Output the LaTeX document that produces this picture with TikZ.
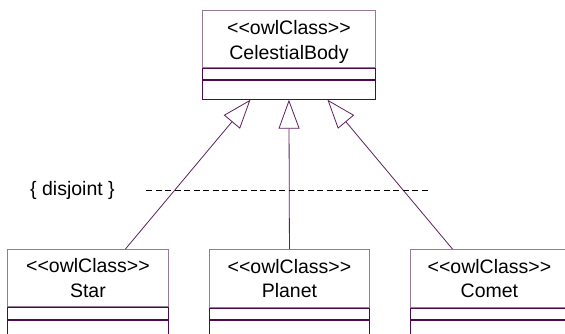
\documentclass[tikz,border=0pt]{standalone}
\usepackage{fontspec}
\setmainfont{Liberation Sans}
\usetikzlibrary{arrows.meta,calc}
\definecolor{umlline}{HTML}{5E1F5E}
\definecolor{umllight}{HTML}{987898}
\definecolor{umldark}{HTML}{4E0A4E}
\newcommand{\stereo}{<\kern0pt<owlClass>\kern0pt>}
\tikzset{
  namebox/.style={draw=umllight,line width=0.9pt,fill=white,inner sep=0pt,align=center,
    font=\fontsize{19.5}{24.5}\selectfont,anchor=north west},
  compbox/.style={draw=umldark,line width=0.9pt,inner sep=0pt,anchor=north west},
  gen/.style={draw=umlline,line width=0.8pt,-{Triangle[open,length=29pt,width=21pt,fill=white]}},
  disj/.style={draw=black,line width=0.8pt,dash pattern=on 6pt off 3.5pt}
}
\begin{document}
\begin{tikzpicture}[x=1pt,y=-1pt]
\useasboundingbox (0,0) rectangle (565,333);
% CelestialBody
\node[namebox,minimum width=173pt,minimum height=57pt,text depth=0pt] (cb) at (202,10) {\raisebox{-2pt}{\stereo}\\\raisebox{-2pt}{CelestialBody}};
\node[compbox,minimum width=173pt,minimum height=11pt] (cbattr) at (cb.south west) {};
\node[compbox,minimum width=173pt,minimum height=19pt] (cbop) at (cbattr.south west) {};
% Star
\node[namebox,minimum width=161pt,minimum height=57pt] (star) at (7,249) {\stereo\\Star};
\node[compbox,minimum width=161pt,minimum height=12pt] (starattr) at (star.south west) {};
\node[compbox,minimum width=161pt,minimum height=30pt] (starop) at (starattr.south west) {};
% Planet
\node[namebox,minimum width=160pt,minimum height=58pt] (planet) at (209,249) {\stereo\\Planet};
\node[compbox,minimum width=160pt,minimum height=11pt] (planetattr) at (planet.south west) {};
\node[compbox,minimum width=160pt,minimum height=30pt] (planetop) at (planetattr.south west) {};
% Comet
\node[namebox,minimum width=158pt,minimum height=58pt] (comet) at (410,249) {\stereo\\Comet};
\node[compbox,minimum width=158pt,minimum height=11pt] (cometattr) at (comet.south west) {};
\node[compbox,minimum width=158pt,minimum height=30pt] (cometop) at (cometattr.south west) {};
% generalization tips
\coordinate (tipL) at ($(cbop.south)+(-38.5,0)$);
\coordinate (tipM) at (cbop.south);
\coordinate (tipR) at ($(cbop.south)+(38.5,0)$);
\coordinate (fromL) at ($(star.north)+(37.5,0)$);
\coordinate (fromR) at ($(comet.north)+(-37,0)$);
\draw[gen] (fromL) -- (tipL);
\draw[gen] (planet.north) -- (tipM);
\draw[gen] (fromR) -- (tipR);
% disjoint constraint
\node[font=\fontsize{19.5}{24}\selectfont,inner sep=0pt] (disjlbl) at (72.5,190) {\{ disjoint \}};
\coordinate (dashA) at (146,190);
\coordinate (dashB) at (431,190);
\draw[disj] (dashA) -- (dashB);
\end{tikzpicture}
\end{document}
